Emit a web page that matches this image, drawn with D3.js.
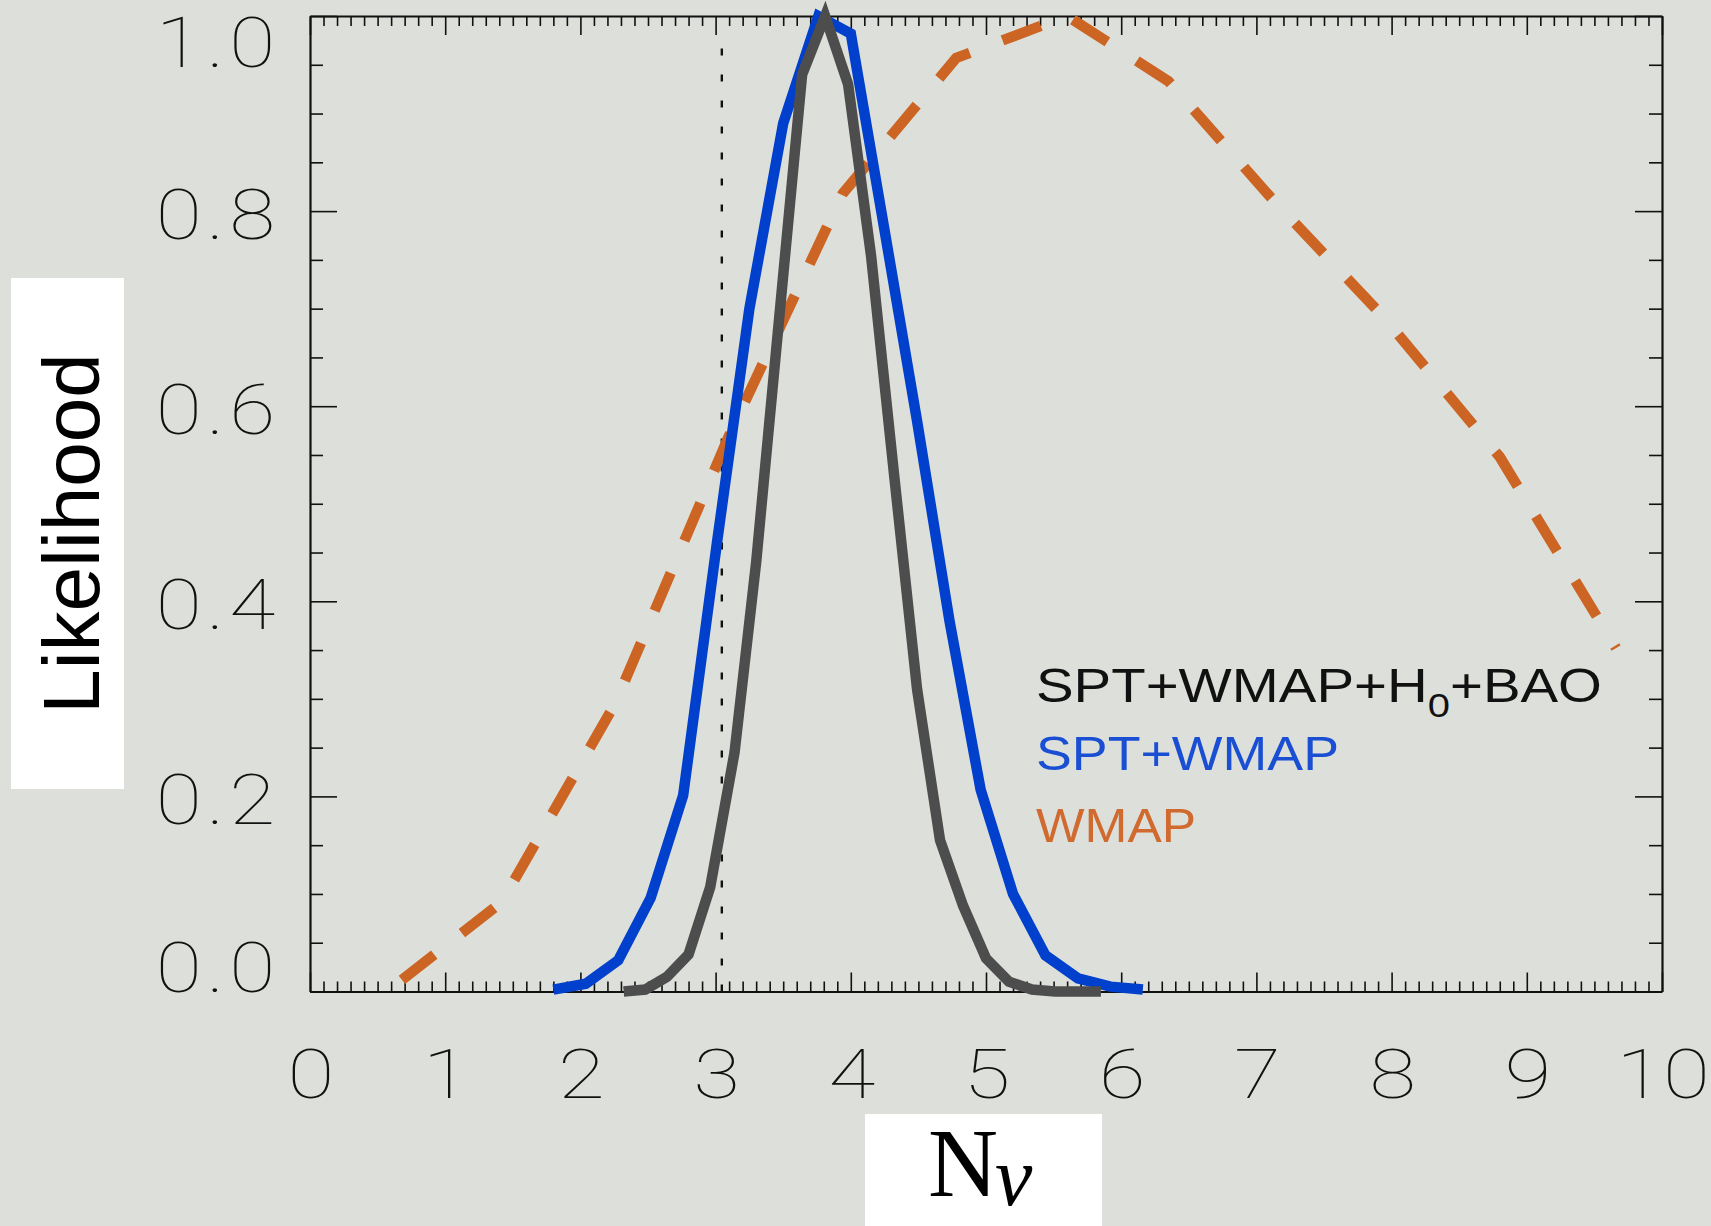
<!DOCTYPE html>
<html><head><meta charset="utf-8">
<script src="https://cdn.jsdelivr.net/npm/d3@7"></script>
<style>
html,body{margin:0;padding:0;background:#dde0da;}
svg{display:block;}
</style></head><body>
<script>
// ---------- data ----------
const xTickValues = [0,1,2,3,4,5,6,7,8,9,10];
const xTickLabels = ["0","1","2","3","4","5","6","7","8","9","10"];
const yTickValues = [0,0.2,0.4,0.6,0.8,1.0];
const yTickLabels = ["0.0","0.2","0.4","0.6","0.8","1.0"];
const xTitle = "N";
const xTitleSub = "\u03BD";
const yTitle = "Likelihood";

// SPT+WMAP+H0+BAO (grey)
const greyX = [2.32,2.48,2.64,2.80,2.96,3.14,3.30,3.47,3.64,3.81,3.98,4.15,4.32,4.49,4.66,4.83,5.00,5.17,5.34,5.51,5.68,5.85];
const greyY = [0.000,0.002,0.015,0.038,0.107,0.245,0.44,0.69,0.94,1.00,0.93,0.754,0.53,0.31,0.155,0.088,0.034,0.010,0.002,0.0,0.0,0.0];
// SPT+WMAP (blue)
const blueX = [1.80,2.04,2.28,2.52,2.76,3.01,3.25,3.50,3.76,4.00,4.25,4.49,4.73,4.96,5.20,5.44,5.68,5.92,6.16];
const blueY = [0.002,0.008,0.032,0.096,0.201,0.46,0.70,0.89,1.00,0.982,0.78,0.585,0.38,0.207,0.10,0.037,0.0135,0.005,0.002];
// WMAP (orange, dashed)
const wmapX = [0.68,1.42,2.26,3.10,3.94,4.78,5.60,6.35,7.10,7.95,8.80,9.66];
const wmapY = [0.012,0.092,0.296,0.570,0.818,0.957,1.000,0.933,0.815,0.690,0.548,0.352];
// standard model value
const nStandard = [3.046];

const legendLines = [
  {parts:[["SPT+WMAP+H",0],["0",1],["+BAO",0]], color:"#111111", width:566},
  {parts:[["SPT+WMAP",0]], color:"#1a4fd4", width:303},
  {parts:[["WMAP",0]], color:"#d06a2e", width:160}
];

// ---------- drawing ----------
const W = 1711, H = 1226;
const svg = d3.select("body").append("svg").attr("width", W).attr("height", H);
svg.append("rect").attr("width", W).attr("height", H).attr("fill", "#dde0da");

const x = d3.scaleLinear().domain([0,10]).range([310,1662]);
const y = d3.scaleLinear().domain([0,1]).range([991.5,16]);

const minorX = d3.range(0,101).map(i=>i/10).filter(v=>Math.abs(v-Math.round(v))>1e-6);
const minorY = d3.range(0,21).map(i=>i/20).filter(v=>Math.abs(v*5-Math.round(v*5))>1e-6);

function styleAxis(g, keepDomain){
  g.selectAll(".tick line").attr("stroke","#111").attr("stroke-width",1.6);
  if(!keepDomain) g.select(".domain").remove();
  else g.select(".domain").attr("stroke","#111").attr("stroke-width",2.2);
}
function addAxis(fn, transform, vals, size, keepDomain){
  const g = svg.append("g").attr("transform", transform)
    .call(fn.tickValues(vals).tickSize(size).tickSizeOuter(0).tickFormat(""));
  styleAxis(g, keepDomain);
}
addAxis(d3.axisBottom(x), `translate(0,${y(0)})`, minorX, -10, false);
addAxis(d3.axisBottom(x), `translate(0,${y(0)})`, xTickValues, -19, true);
addAxis(d3.axisTop(x), `translate(0,${y(1)})`, minorX, -10, false);
addAxis(d3.axisTop(x), `translate(0,${y(1)})`, xTickValues, -19, true);
addAxis(d3.axisLeft(y), `translate(${x(0)},0)`, minorY, -13, false);
addAxis(d3.axisLeft(y), `translate(${x(0)},0)`, yTickValues, -27, true);
addAxis(d3.axisRight(y), `translate(${x(10)},0)`, minorY, -13, false);
addAxis(d3.axisRight(y), `translate(${x(10)},0)`, yTickValues, -27, true);

// tick labels (thin, slightly widened glyphs)
const tickFont = "Roboto, 'DejaVu Sans', sans-serif";
svg.append("g").selectAll("text").data(xTickValues).join("text")
  .attr("transform", d=>`translate(${x(d)+1},1098) scale(1.24,1)`)
  .attr("text-anchor","middle")
  .attr("font-family", tickFont).attr("font-weight",100)
  .attr("font-size",69).attr("fill","#111")
  .text((d,i)=>xTickLabels[i]);
svg.append("g").selectAll("text").data(yTickValues).join("text")
  .attr("transform", d=>`translate(280,${Math.min(Math.max(y(d)+3, y(1)+26), y(0)-25) + 25}) scale(1.2,1)`)
  .attr("text-anchor","end")
  .attr("letter-spacing",4)
  .attr("font-family", tickFont).attr("font-weight",100)
  .attr("font-size",70).attr("fill","#111")
  .text((d,i)=>yTickLabels[i]);

// standard-model dotted line
svg.append("line")
  .attr("x1", x(nStandard[0])).attr("x2", x(nStandard[0]))
  .attr("y1", y(0)).attr("y2", y(0.985))
  .attr("stroke","#111").attr("stroke-width",2.4)
  .attr("stroke-dasharray","7,19");

const line = d3.line().x(d=>x(d[0])).y(d=>y(d[1]));

svg.append("path").datum(d3.zip(wmapX, wmapY)).attr("d", line)
  .attr("fill","none").attr("stroke","#cc6424").attr("stroke-width",10.5)
  .attr("stroke-dasharray","41,35");
svg.append("path").datum(d3.zip(blueX, blueY)).attr("d", line)
  .attr("fill","none").attr("stroke","#0040cc").attr("stroke-width",10.5)
  .attr("stroke-linejoin","miter");
svg.append("path").datum(d3.zip(greyX, greyY)).attr("d", line)
  .attr("fill","none").attr("stroke","#4d4d4d").attr("stroke-width",10.5)
  .attr("stroke-linejoin","miter");

// legend
const legFont = "'Liberation Sans', Arial, Helvetica, sans-serif";
const legBase = [702, 770, 842];
legendLines.forEach((L,i)=>{
  const t = svg.append("text").attr("x",1036).attr("y",legBase[i])
    .attr("font-family",legFont).attr("font-size",48).attr("fill",L.color)
    .attr("textLength",L.width).attr("lengthAdjust","spacingAndGlyphs");
  L.parts.forEach(p=>{
    const ts = t.append("tspan").text(p[0]);
    if(p[1]===1) ts.attr("font-size",34).attr("dy",15);
    else if(ts.node().previousSibling) ts.attr("dy",-15);
  });
});

// y title
svg.append("rect").attr("x",11).attr("y",278).attr("width",113).attr("height",511).attr("fill","#ffffff");
svg.append("text").attr("transform","translate(99,533.5) rotate(-90)")
  .attr("text-anchor","middle").attr("font-family",legFont).attr("font-size",80).attr("fill","#000")
  .text(yTitle);

// x title
svg.append("rect").attr("x",865).attr("y",1114).attr("width",237).attr("height",112).attr("fill","#ffffff");
const serif = "'Liberation Serif','Times New Roman',serif";
svg.append("text").attr("x",928).attr("y",1196)
  .attr("font-family",serif).attr("font-size",97).attr("fill","#000")
  .text(xTitle);
svg.append("text").attr("x",995).attr("y",1205)
  .attr("font-family",serif).attr("font-style","italic").attr("font-size",84).attr("fill","#000")
  .text(xTitleSub);
</script>
</body></html>
